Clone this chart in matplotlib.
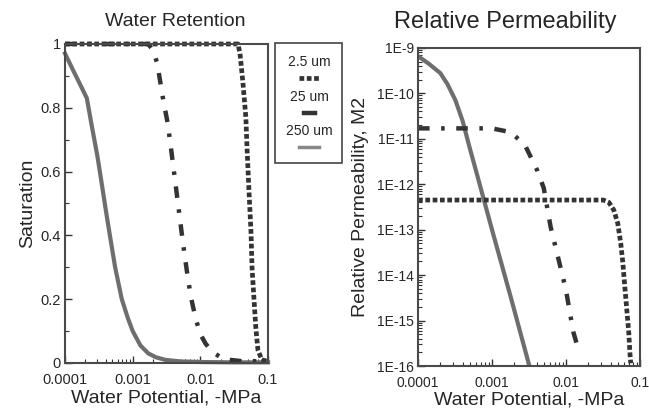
import numpy as np
import matplotlib
matplotlib.use("Agg")
import matplotlib.pyplot as plt
from matplotlib.lines import Line2D
from matplotlib.patches import Rectangle
from matplotlib.ticker import LogLocator, FuncFormatter, MultipleLocator, NullFormatter

plt.rcParams['font.family'] = ['Liberation Sans', 'DejaVu Sans']

# water retention curves: potential (-MPa) vs saturation
psi_wr_2p5 = [1e-4, 3.6e-2, 3.85e-2, 4.25e-2, 4.7e-2, 4.9e-2, 5.2e-2, 5.6e-2,
              5.8e-2, 6.2e-2, 6.6e-2, 7.1e-2, 8.1e-2, 1e-1]
sat_2p5 = [1.0, 1.0, 0.97, 0.88, 0.77, 0.67, 0.55, 0.41,
           0.30, 0.20, 0.11, 0.04, 0.01, 0.005]

psi_wr_25 = [1e-4, 1.7e-3, 2.0e-3, 2.3e-3, 2.8e-3, 3.3e-3, 3.8e-3, 4.3e-3, 4.8e-3,
             5.5e-3, 6.3e-3, 7.2e-3, 8.5e-3, 1.0e-2, 1.2e-2, 1.5e-2, 2.2e-2, 4e-2, 1e-1]
sat_25 = [1.0, 1.0, 0.98, 0.94, 0.83, 0.75, 0.65, 0.56, 0.48,
          0.38, 0.29, 0.21, 0.14, 0.09, 0.06, 0.035, 0.012, 0.006, 0.005]

psi_wr_250 = [1e-4, 1.3e-4, 1.7e-4, 2.1e-4, 2.5e-4, 3e-4, 3.5e-4, 4e-4, 4.6e-4, 5.5e-4,
              6.9e-4, 8.5e-4, 1e-3, 1.3e-3, 1.7e-3, 2.2e-3, 3e-3, 5e-3, 1e-2, 3e-2, 1e-1]
sat_250 = [0.97, 0.92, 0.87, 0.83, 0.74, 0.65, 0.56, 0.48, 0.40, 0.30,
           0.20, 0.14, 0.10, 0.055, 0.03, 0.018, 0.01, 0.005, 0.003, 0.002, 0.002]

# relative permeability curves: potential (-MPa) vs permeability (m2)
psi_kr_2p5 = [1e-4, 3.2e-2, 3.8e-2, 4.43e-2, 5.0e-2, 5.5e-2, 5.86e-2, 6.24e-2,
              6.64e-2, 7.07e-2, 7.3e-2, 7.5e-2]
k_2p5 = [4.5e-13, 4.5e-13, 4.0e-13, 2.7e-13, 1.4e-13, 5e-14, 1.9e-14, 5.5e-15,
         1.7e-15, 5.2e-16, 2e-16, 1.15e-16]

psi_kr_25 = [1e-4, 1e-3, 1.8e-3, 2.8e-3, 4.1e-3, 5e-3, 6.2e-3, 8.5e-3,
             1.0e-2, 1.1e-2, 1.26e-2, 1.45e-2]
k_25 = [1.7e-11, 1.7e-11, 1.4e-11, 7.2e-12, 2.0e-12, 8.3e-13, 1.15e-13, 1.4e-14,
        4.7e-15, 1.9e-15, 5.5e-16, 2.5e-16]

psi_kr_250 = [1e-4, 1.4e-4, 2e-4, 2.5e-4, 3.2e-4, 4e-4, 5e-4, 6.3e-4, 1e-3, 1.8e-3, 3.2e-3]
k_250 = [6.6e-10, 4.5e-10, 2.8e-10, 1.6e-10, 7.1e-11, 2.5e-11, 6.3e-12, 1.6e-12,
         1e-13, 3.2e-15, 1e-16]

labels = ['2.5 um', '25 um', '250 um']

dark = '#333333'
grey = '#6e6e6e'
txt = '#262626'
style_2p5 = dict(color=dark, lw=3.4, linestyle=(0, (1.0, 0.55)))
style_25 = dict(color=dark, lw=3.2, linestyle=(0, (2.6, 2.6, 0.8, 2.6)))
style_250 = dict(color=grey, lw=3.0, linestyle='-')

fig = plt.figure(figsize=(6.49, 4.13), dpi=100)
ax1 = fig.add_axes([0.1002, 0.1211, 0.3128, 0.7724])
ax2 = fig.add_axes([0.6441, 0.1138, 0.3420, 0.7700])

log_fmt = FuncFormatter(lambda v, _: f"{v:g}")

# water retention
ax1.plot(psi_wr_250, sat_250, clip_on=False, **style_250)
ax1.plot(psi_wr_25, sat_25, clip_on=False, **style_25)
ax1.plot(psi_wr_2p5, sat_2p5, clip_on=False, **style_2p5)
ax1.set_xscale('log')
ax1.set_xlim(1e-4, 1e-1)
ax1.set_ylim(0, 1)
ax1.yaxis.set_major_locator(MultipleLocator(0.2))
ax1.yaxis.set_minor_locator(MultipleLocator(0.1))
ax1.yaxis.set_major_formatter(FuncFormatter(lambda v, _: f"{v:g}"))
ax1.set_xlabel('Water Potential, -MPa', fontsize=14, color=txt, labelpad=2)
ax1.set_ylabel('Saturation', fontsize=14, color=txt, labelpad=3)

# relative permeability
ax2.plot(psi_kr_250, k_250, **style_250)
ax2.plot(psi_kr_25, k_25, **style_25)
ax2.plot(psi_kr_2p5, k_2p5, **style_2p5)
ax2.set_xscale('log')
ax2.set_yscale('log')
ax2.set_xlim(1e-4, 1e-1)
ax2.set_ylim(1e-16, 1e-9)
ax2.yaxis.set_major_locator(LogLocator(base=10, numticks=20))
ax2.yaxis.set_minor_locator(LogLocator(base=10, subs=np.arange(2, 10), numticks=100))
ax2.yaxis.set_minor_formatter(NullFormatter())
ax2.yaxis.set_major_formatter(FuncFormatter(lambda v, _: f"1E{int(round(np.log10(v)))}"))
ax2.set_xlabel('Water Potential, -MPa', fontsize=14, color=txt, labelpad=1)
ax2.set_ylabel('Relative Permeability, M2', fontsize=14, color=txt, labelpad=6)

for ax, lsize in ((ax1, 10.5), (ax2, 10)):
    ax.xaxis.set_major_locator(LogLocator(base=10, numticks=10))
    ax.xaxis.set_minor_locator(LogLocator(base=10, subs=np.arange(2, 10), numticks=50))
    ax.xaxis.set_minor_formatter(NullFormatter())
    ax.xaxis.set_major_formatter(log_fmt)
    ax.tick_params(which='major', direction='in', length=5, width=1, color=dark,
                   labelsize=lsize, labelcolor=txt, pad=3)
    ax.tick_params(axis='x', which='major', pad=7)
    ax.tick_params(which='minor', direction='in', length=3, width=0.8, color=dark)
    for s in ax.spines.values():
        s.set_color('#4a4a4a')
        s.set_linewidth(1.5)

fig.text(175 / 649, 1 - 21 / 413, 'Water Retention', fontsize=14, color=txt,
         ha='center', va='center')
fig.text(505 / 649, 1 - 22 / 413, 'Relative Permeability', fontsize=17, color=txt,
         ha='center', va='center')

# legend box between the two panels, labels stacked above their line samples
fig.patches.append(Rectangle((275 / 649, 1 - 163 / 413), 67 / 649, 120 / 413,
                             transform=fig.transFigure, fill=False,
                             edgecolor='#444444', lw=1.2))
cx = 309 / 649
text_y = [62, 97, 131]
handle_y = [78, 113, 147]
handle_w = [20, 11, 20]
styles = [style_2p5, style_25, style_250]
for lab, ty, hy, hw, st in zip(labels, text_y, handle_y, handle_w, styles):
    fig.text(cx, 1 - ty / 413, lab, fontsize=10, color=txt, ha='center', va='center')
    st = dict(st)
    if lab == '250 um':
        st['lw'] = 2.5
        st['color'] = '#888888'
    if lab == '25 um':
        st['linestyle'] = '-'
    fig.lines.append(Line2D([cx - hw / 2 / 649, cx + hw / 2 / 649], [1 - hy / 413] * 2,
                            transform=fig.transFigure, **st))

fig.savefig('out.png', dpi=100)
